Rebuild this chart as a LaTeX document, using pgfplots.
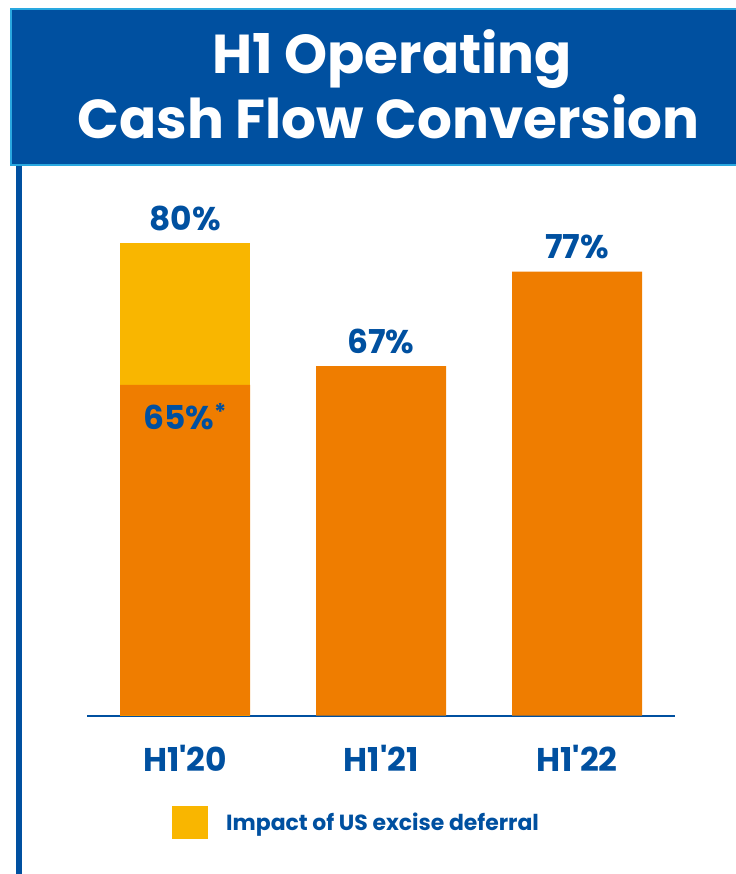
\documentclass[border=0pt]{standalone}
\usepackage{pgfplots}
\pgfplotsset{compat=1.18}
\usepackage{fontspec}
\setmainfont{Poppins}
\definecolor{bblue}{HTML}{0050A0}
\definecolor{lblue}{HTML}{29A8E0}
\definecolor{orng}{HTML}{EF7D00}
\definecolor{ylw}{HTML}{F9B600}
\begin{document}
\begin{tikzpicture}[x=1bp,y=1bp]
\useasboundingbox (0,0) rectangle (736,874);
% left rule
\fill[bblue] (16,0) rectangle (22,710);
% banner
\fill[bblue] (11,709) rectangle (736,865);
\draw[lblue, line width=2.5bp] (736,865) -- (11,865) -- (11,709) -- (736,709);
\node[anchor=base, text=white, inner sep=0pt, font=\fontsize{55}{55}\selectfont\bfseries] at (392,800) {H1 Operating};
\node[anchor=base, text=white, inner sep=0pt, font=\fontsize{55}{55}\selectfont\bfseries] at (388.5,735) {Cash Flow Conversion};
\begin{axis}[
  at={(87bp,158.3bp)}, anchor=south west,
  scale only axis, width=588bp, height=529.2bp,
  xmin=-0.5, xmax=2.5, ymin=30, ymax=86,
  axis y line=none, axis x line*=bottom,
  x axis line style={bblue, line width=2bp},
  xtick={0,1,2},
  xticklabels={H1\textquotesingle 20, H1\textquotesingle 21, H1\textquotesingle 22},
  major tick length=0pt,
  xticklabel style={anchor=north, inner sep=0pt, yshift=-29bp, text=bblue,
    font=\fontsize{33}{33}\selectfont\bfseries},
  ybar, bar width=130bp, bar shift=0pt,
  legend style={at={(0.1446,-0.2018)}, anchor=west, draw=none, fill=none,
    inner sep=0pt, column sep=18bp,
    nodes={inner sep=0pt, text=bblue, font=\fontsize{22}{22}\selectfont\bfseries}},
  legend image code/.code={\fill[#1] (0bp,-16.5bp) rectangle (36bp,16.5bp);},
]
\addplot[fill=ylw, draw=none] coordinates {(0,80)};
\addlegendentry{Impact of US excise deferral}
\addplot[fill=orng, draw=none, forget plot] coordinates {(0,65) (1,67) (2,77)};
\node[anchor=base, yshift=13bp, text=bblue, inner sep=0pt, font=\fontsize{33}{33}\selectfont\bfseries] at (axis cs:0,80) {80\%};
\node[anchor=base, yshift=13bp, text=bblue, inner sep=0pt, font=\fontsize{33}{33}\selectfont\bfseries] at (axis cs:1,67) {67\%};
\node[anchor=base, yshift=13bp, text=bblue, inner sep=0pt, font=\fontsize{33}{33}\selectfont\bfseries] at (axis cs:2,77) {77\%};
\node[anchor=base, yshift=-45bp, text=bblue, inner sep=0pt, font=\fontsize{33}{33}\selectfont\bfseries] at (axis cs:0,65) {65\%\textsuperscript{*}};
\end{axis}
\end{tikzpicture}
\end{document}
